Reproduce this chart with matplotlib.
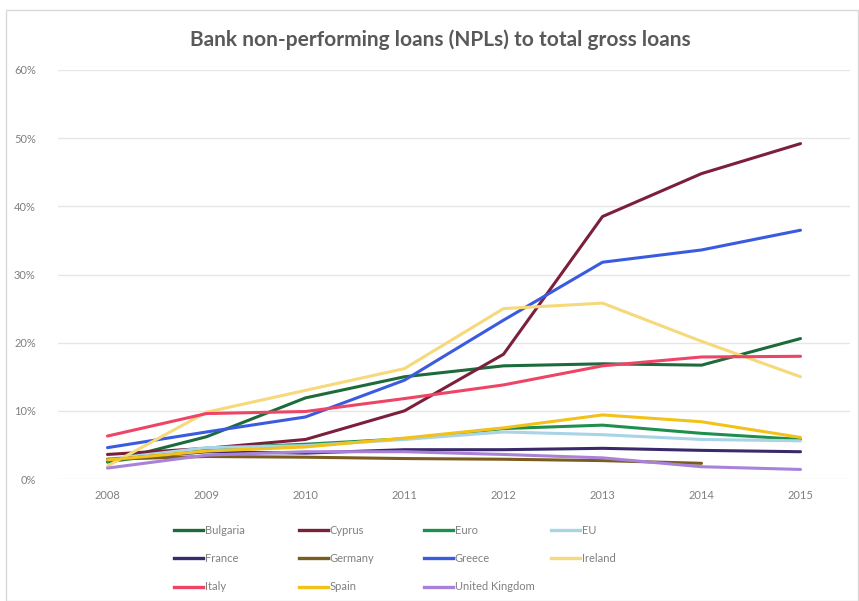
import matplotlib

matplotlib.use("Agg")
import matplotlib.pyplot as plt
from matplotlib.lines import Line2D
from matplotlib.patches import Rectangle
from matplotlib.ticker import FuncFormatter

plt.rcParams["font.family"] = ["Lato", "DejaVu Sans"]

years = ["2008", "2009", "2010", "2011", "2012", "2013", "2014", "2015"]

# NPL ratios in percent
bulgaria = [2.5, 6.2, 11.9, 15.0, 16.6, 16.9, 16.7, 20.6]
cyprus = [3.6, 4.5, 5.8, 10.0, 18.3, 38.5, 44.8, 49.2]
euro = [2.5, 4.5, 5.1, 5.9, 7.4, 7.9, 6.7, 5.8]
eu = [2.9, 4.6, 4.9, 5.8, 6.9, 6.5, 5.8, 5.6]
france = [2.8, 4.0, 3.8, 4.3, 4.3, 4.5, 4.2, 4.0]
germany = [2.9, 3.3, 3.2, 3.0, 2.9, 2.7, 2.3, None]
greece = [4.6, 6.9, 9.1, 14.5, 23.3, 31.8, 33.6, 36.5]
ireland = [1.9, 9.8, 13.0, 16.2, 25.0, 25.8, 20.2, 15.0]
italy = [6.3, 9.6, 9.9, 11.8, 13.8, 16.6, 17.9, 18.0]
spain = [2.8, 4.1, 4.7, 6.0, 7.5, 9.4, 8.4, 6.1]
uk = [1.6, 3.5, 4.0, 4.0, 3.6, 3.1, 1.8, 1.4]

series = [
    ("Bulgaria", bulgaria, "#1d6b3b"),
    ("Cyprus", cyprus, "#7b1f3a"),
    ("Euro", euro, "#1f8f4e"),
    ("EU", eu, "#a9d3e6"),
    ("France", france, "#3b2a6b"),
    ("Germany", germany, "#7a5c1e"),
    ("Greece", greece, "#3a5be0"),
    ("Ireland", ireland, "#f5d97a"),
    ("Italy", italy, "#ee4466"),
    ("Spain", spain, "#f2c21a"),
    ("United Kingdom", uk, "#a882d9"),
]

fig = plt.figure(figsize=(8.59, 6.01), dpi=100)
ax = fig.add_axes([58 / 859, 1 - 479 / 601, 792 / 859, 409 / 601])

x = list(range(len(years)))
handles = []
for name, values, color in series:
    xs = [i for i, v in zip(x, values) if v is not None]
    ys = [v / 100 for v in values if v is not None]
    ax.plot(xs, ys, color=color, linewidth=2.2, solid_capstyle="round")
    handles.append(Line2D([], [], color=color, linewidth=2.4, label=name))

ax.set_xlim(-0.5, len(years) - 0.5)
ax.set_ylim(0, 0.6)
ax.set_yticks([i / 10 for i in range(7)])
ax.yaxis.set_major_formatter(FuncFormatter(lambda v, _: f"{v * 100:.0f}%"))
ax.set_xticks(x)
ax.set_xticklabels(years)
ax.tick_params(axis="both", length=0, labelsize=8, labelcolor="#808080")
ax.tick_params(axis="y", pad=16)
ax.tick_params(axis="x", pad=8)
ax.grid(axis="y", color="#e6e6e6", linewidth=1)
ax.set_axisbelow(True)
for spine in ax.spines.values():
    spine.set_visible(False)

fig.text(440 / 859, 1 - 40 / 601, "Bank non-performing loans (NPLs) to total gross loans",
         ha="center", va="center", fontsize=15, fontweight="bold", color="#595959")

# legend: Excel lays it out row by row in equal columns
col_x = [174, 299, 424, 551]
for c, cx in enumerate(col_x):
    col = handles[c::4]
    leg = fig.legend(handles=col, loc="upper left",
                     bbox_to_anchor=(cx / 859, 1 - 525 / 601),
                     frameon=False, fontsize=8, handlelength=2.6,
                     handletextpad=0.15, labelspacing=1.55, borderpad=0,
                     borderaxespad=0)
    for t in leg.get_texts():
        t.set_color("#808080")

fig.patches.append(Rectangle((6 / 859, 0), 852 / 859, 1 - 10 / 601,
                             transform=fig.transFigure, fill=False,
                             edgecolor="#d9d9d9", linewidth=1))

fig.savefig("out.png", dpi=100)
